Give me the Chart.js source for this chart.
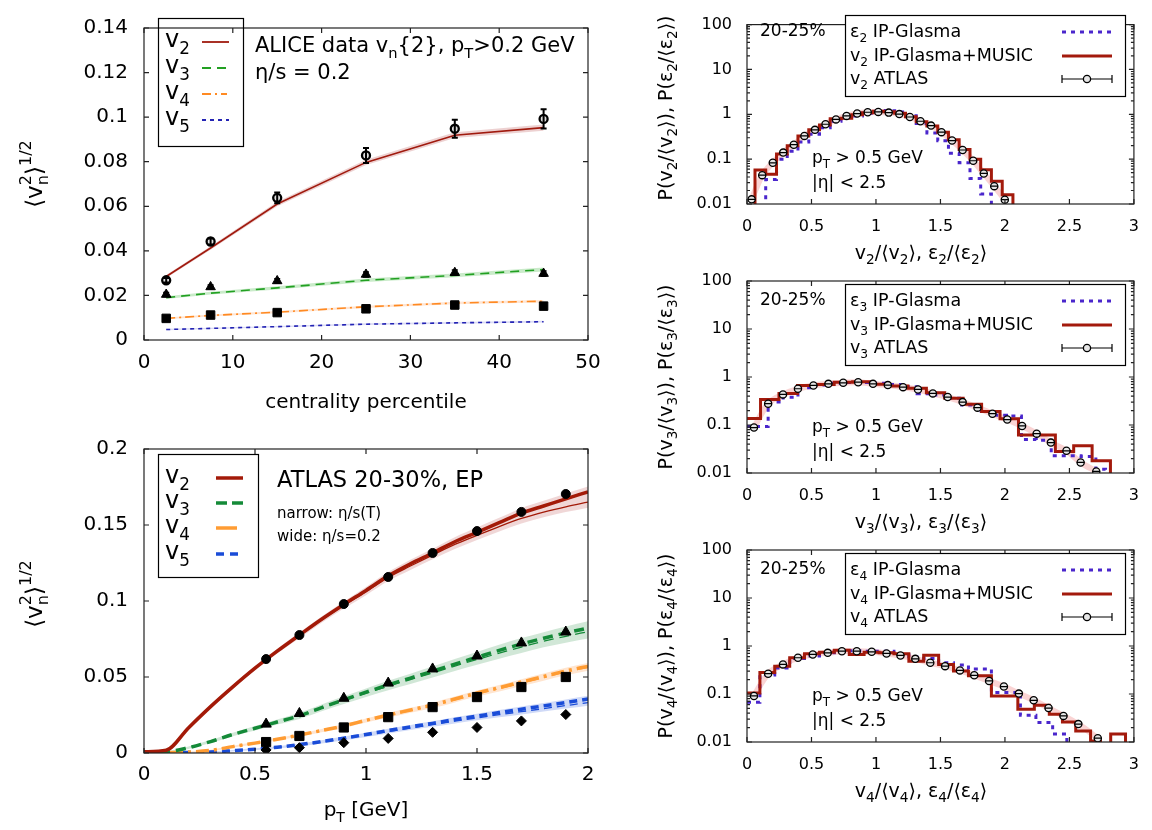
<!DOCTYPE html>
<html><head><meta charset="utf-8">
<script src="https://cdn.jsdelivr.net/npm/chart.js@4"></script>
<style>body{margin:0;background:#fff;width:1152px;height:830px;overflow:hidden}canvas.p{position:absolute;left:0;top:0}</style>
</head><body>
<canvas id="c1" class="p" width="1152" height="830"></canvas>
<canvas id="c2" class="p" width="1152" height="830"></canvas>
<canvas id="c3" class="p" width="1152" height="830"></canvas>
<canvas id="c4" class="p" width="1152" height="830"></canvas>
<canvas id="c5" class="p" width="1152" height="830"></canvas>
<script>
// ---------- Panel 1: centrality dependence ----------
const centrality = [2.5, 7.5, 15, 25, 35, 45];
const aliceV2 = [0.0268, 0.0442, 0.0638, 0.0828, 0.0948, 0.0992];
const aliceV2Err = [0.001, 0.0014, 0.0024, 0.0034, 0.0040, 0.0043];
const aliceV3 = [0.0204, 0.0238, 0.0265, 0.0294, 0.0302, 0.0298];
const aliceV3Err = [0.0009, 0.0009, 0.0010, 0.0011, 0.0012, 0.0012];
const aliceV4 = [0.0097, 0.0112, 0.0123, 0.0140, 0.0157, 0.0152];
const aliceV4Err = [0.0007, 0.0007, 0.0007, 0.0008, 0.0008, 0.0009];
const hydroCentV2 = [0.0285, 0.0413, 0.0610, 0.0797, 0.0919, 0.0953];
const hydroCentV3 = [0.0190, 0.0210, 0.0234, 0.0268, 0.0290, 0.0316];
const hydroCentV4 = [0.0097, 0.0110, 0.0125, 0.0149, 0.0166, 0.0174];
const hydroCentV5 = [0.0047, 0.0052, 0.0060, 0.0071, 0.0077, 0.0082];
const bandCentV2 = [0.0007, 0.0008, 0.0010, 0.0012, 0.0013, 0.0014];
const bandCentV3 = [0.0006, 0.0006, 0.0007, 0.0008, 0.0008, 0.0009];
const bandCentV4 = [0.0004, 0.0004, 0.0005, 0.0005, 0.0006, 0.0006];
const bandCentV5 = [0.0003, 0.0003, 0.0003, 0.0004, 0.0004, 0.0004];
const centTicks = [0, 10, 20, 30, 40, 50];
const centYTicks = [0, 0.02, 0.04, 0.06, 0.08, 0.1, 0.12, 0.14];

// ---------- Panel 2: pT dependence ----------
const ptData = [0.55, 0.7, 0.9, 1.1, 1.3, 1.5, 1.7, 1.9];
const atlasPtV2 = [0.0618, 0.0776, 0.0980, 0.1158, 0.1316, 0.1460, 0.1586, 0.1704];
const atlasPtV3 = [0.0190, 0.0260, 0.0360, 0.0460, 0.0553, 0.0638, 0.0724, 0.0796];
const atlasPtV4 = [0.0072, 0.0112, 0.0168, 0.0236, 0.0302, 0.0368, 0.0434, 0.0500];
const atlasPtV5 = [0.0020, 0.0035, 0.0068, 0.0096, 0.0136, 0.0168, 0.0211, 0.0253];
const ptGrid = [0, 0.1, 0.2, 0.3, 0.4, 0.5, 0.6, 0.7, 0.8, 0.9, 1.0, 1.1, 1.2, 1.3, 1.4, 1.5, 1.6, 1.7, 1.8, 1.9, 2.0];
const v2Thick = [0.0008, 0.0018, 0.0165, 0.0305, 0.0435, 0.0558, 0.0670, 0.0776, 0.0880, 0.0977, 0.1070, 0.1166, 0.1245, 0.1316, 0.1390, 0.1452, 0.1515, 0.1578, 0.1625, 0.1672, 0.1718];
const v2Thin  = [0.0008, 0.0018, 0.0165, 0.0305, 0.0435, 0.0558, 0.0670, 0.0772, 0.0875, 0.0970, 0.1060, 0.1155, 0.1230, 0.1302, 0.1372, 0.1432, 0.1490, 0.1543, 0.1585, 0.1620, 0.1650];
const v2Band  = [0.0005, 0.0008, 0.0010, 0.0012, 0.0014, 0.0015, 0.0016, 0.0017, 0.0018, 0.0020, 0.0022, 0.0024, 0.0026, 0.0028, 0.0030, 0.0031, 0.0032, 0.0033, 0.0034, 0.0035, 0.0036];
const v3Thick = [0.0005, 0.0008, 0.0035, 0.0075, 0.0122, 0.0163, 0.0204, 0.0245, 0.0298, 0.0350, 0.0400, 0.0448, 0.0493, 0.0538, 0.0585, 0.0630, 0.0675, 0.0717, 0.0755, 0.0790, 0.0822];
const v3Thin  = [0.0005, 0.0008, 0.0035, 0.0075, 0.0122, 0.0163, 0.0204, 0.0243, 0.0295, 0.0345, 0.0393, 0.0440, 0.0483, 0.0527, 0.0572, 0.0615, 0.0657, 0.0697, 0.0735, 0.0768, 0.0798];
const v3Band  = [0.0003, 0.0004, 0.0008, 0.0010, 0.0012, 0.0015, 0.0017, 0.0019, 0.0021, 0.0023, 0.0025, 0.0027, 0.0029, 0.0031, 0.0033, 0.0035, 0.0037, 0.0039, 0.0040, 0.0042, 0.0044];
const v4Thick = [0.0002, 0.0003, 0.0006, 0.0017, 0.0042, 0.0065, 0.0090, 0.0118, 0.0148, 0.0178, 0.0215, 0.0250, 0.0283, 0.0316, 0.0355, 0.0395, 0.0430, 0.0467, 0.0503, 0.0540, 0.0570];
const v4Thin  = [0.0002, 0.0003, 0.0006, 0.0017, 0.0042, 0.0065, 0.0090, 0.0117, 0.0146, 0.0176, 0.0212, 0.0246, 0.0279, 0.0311, 0.0349, 0.0388, 0.0423, 0.0460, 0.0496, 0.0532, 0.0563];
const v4Band  = [0.0002, 0.0003, 0.0004, 0.0005, 0.0006, 0.0007, 0.0008, 0.0009, 0.0010, 0.0011, 0.0012, 0.0013, 0.0014, 0.0015, 0.0016, 0.0017, 0.0018, 0.0019, 0.0020, 0.0021, 0.0022];
const v5Thick = [0.0001, 0.0002, 0.0003, 0.0006, 0.0015, 0.0025, 0.0038, 0.0055, 0.0075, 0.0098, 0.0122, 0.0148, 0.0172, 0.0195, 0.0220, 0.0243, 0.0266, 0.0288, 0.0310, 0.0332, 0.0355];
const v5Thin  = [0.0001, 0.0002, 0.0003, 0.0006, 0.0015, 0.0025, 0.0037, 0.0053, 0.0072, 0.0094, 0.0117, 0.0141, 0.0164, 0.0186, 0.0209, 0.0231, 0.0252, 0.0272, 0.0292, 0.0312, 0.0332];
const v5Band  = [0.0002, 0.0002, 0.0003, 0.0004, 0.0005, 0.0006, 0.0007, 0.0008, 0.0009, 0.0010, 0.0011, 0.0012, 0.0013, 0.0014, 0.0015, 0.0016, 0.0017, 0.0018, 0.0019, 0.0020, 0.0021];
const ptTicks = [0, 0.5, 1, 1.5, 2];
const ptYTicks = [0, 0.05, 0.1, 0.15, 0.2];

// ---------- Panels 3-5: event-by-event distributions ----------
const logTicks = [0.01, 0.1, 1, 10, 100];
const ratioTicks = [0, 0.5, 1, 1.5, 2, 2.5, 3];
// n = 2
const atlasX2 = [0.036, 0.118, 0.200, 0.281, 0.363, 0.445, 0.527, 0.609, 0.690, 0.772, 0.854, 0.936, 1.018, 1.099, 1.181, 1.263, 1.345, 1.427, 1.508, 1.590, 1.672, 1.754, 1.836, 1.917, 1.999];
const atlasP2 = [0.0127, 0.044, 0.083, 0.14, 0.21, 0.33, 0.45, 0.60, 0.77, 0.92, 1.04, 1.11, 1.13, 1.09, 1.01, 0.87, 0.70, 0.56, 0.40, 0.26, 0.16, 0.092, 0.048, 0.025, 0.0125];
const musicEdges2 = [0.062, 0.145, 0.229, 0.312, 0.395, 0.479, 0.562, 0.645, 0.729, 0.812, 0.895, 0.979, 1.062, 1.145, 1.229, 1.312, 1.395, 1.479, 1.562, 1.645, 1.729, 1.812, 1.895, 1.979, 2.062];
const musicP2 = [0.057, 0.046, 0.13, 0.20, 0.33, 0.45, 0.58, 0.80, 0.82, 0.98, 1.08, 1.17, 1.14, 1.05, 0.88, 0.68, 0.55, 0.40, 0.27, 0.165, 0.10, 0.058, 0.032, 0.016];
const epsEdges2 = [0.145, 0.229, 0.312, 0.395, 0.479, 0.562, 0.645, 0.729, 0.812, 0.895, 0.979, 1.062, 1.145, 1.229, 1.312, 1.395, 1.479, 1.562, 1.645, 1.729, 1.812, 1.895];
const epsP2 = [0.035, 0.10, 0.15, 0.24, 0.36, 0.50, 0.70, 0.85, 0.92, 1.05, 1.22, 1.20, 1.12, 0.93, 0.62, 0.385, 0.257, 0.135, 0.083, 0.037, 0.0167];
// n = 3
const atlasX3 = [0.054, 0.164, 0.279, 0.395, 0.515, 0.631, 0.746, 0.862, 0.977, 1.092, 1.210, 1.326, 1.441, 1.556, 1.672, 1.787, 1.903, 2.018, 2.133, 2.246, 2.356, 2.477, 2.587, 2.708];
const atlasP3 = [0.0885, 0.278, 0.434, 0.569, 0.667, 0.72, 0.757, 0.78, 0.72, 0.678, 0.615, 0.55, 0.455, 0.382, 0.30, 0.23, 0.172, 0.13, 0.0955, 0.066, 0.043, 0.029, 0.0166, 0.0108];
const musicEdges3 = [0, 0.105, 0.248, 0.391, 0.533, 0.676, 0.819, 0.962, 1.105, 1.248, 1.391, 1.533, 1.676, 1.819, 1.962, 2.105, 2.248, 2.391, 2.533, 2.676, 2.818];
const musicP3 = [0.136, 0.34, 0.455, 0.667, 0.70, 0.78, 0.80, 0.71, 0.65, 0.58, 0.47, 0.36, 0.27, 0.19, 0.135, 0.062, 0.062, 0.028, 0.037, 0.018];
const epsEdges3 = [0, 0.164, 0.280, 0.395, 0.510, 0.626, 0.741, 0.857, 0.972, 1.088, 1.203, 1.319, 1.434, 1.550, 1.665, 1.781, 1.896, 2.012, 2.128, 2.243, 2.359, 2.474, 2.590, 2.705, 2.780];
const epsP3 = [0.093, 0.30, 0.38, 0.60, 0.68, 0.74, 0.77, 0.77, 0.74, 0.70, 0.63, 0.45, 0.42, 0.36, 0.26, 0.19, 0.16, 0.154, 0.05, 0.048, 0.023, 0.023, 0.022, 0.012];
// n = 4
const atlasX4 = [0.054, 0.164, 0.279, 0.395, 0.510, 0.626, 0.736, 0.851, 0.967, 1.082, 1.190, 1.305, 1.421, 1.536, 1.651, 1.762, 1.877, 1.992, 2.108, 2.223, 2.338, 2.454, 2.569, 2.720];
const atlasP4 = [0.091, 0.265, 0.414, 0.569, 0.667, 0.72, 0.78, 0.78, 0.757, 0.70, 0.636, 0.54, 0.448, 0.38, 0.31, 0.245, 0.187, 0.143, 0.102, 0.074, 0.051, 0.035, 0.0236, 0.012];
const musicEdges4 = [0, 0.1, 0.215, 0.331, 0.446, 0.562, 0.677, 0.793, 0.908, 1.024, 1.139, 1.255, 1.370, 1.486, 1.601, 1.717, 1.895, 2.100, 2.228, 2.344, 2.446, 2.549, 2.664, 2.741];
const musicP4 = [0.105, 0.28, 0.38, 0.57, 0.69, 0.74, 0.82, 0.667, 0.74, 0.72, 0.69, 0.48, 0.645, 0.41, 0.30, 0.24, 0.091, 0.048, 0.058, 0.038, 0.026, 0.017, 0.0105];
const musicTailEdges4 = [2.82, 2.935];
const musicTailP4 = [0.0147];
const epsEdges4 = [0, 0.1, 0.215, 0.331, 0.446, 0.562, 0.677, 0.793, 0.908, 1.024, 1.139, 1.255, 1.370, 1.486, 1.601, 1.717, 1.895, 2.120, 2.240, 2.370, 2.480];
const epsP4 = [0.067, 0.25, 0.35, 0.55, 0.62, 0.72, 0.78, 0.80, 0.78, 0.78, 0.66, 0.60, 0.55, 0.45, 0.40, 0.33, 0.107, 0.036, 0.0255, 0.0147];

// ---------- helpers ----------
const W = 1152, H = 830, FAM = "'DejaVu Sans', 'Liberation Sans', sans-serif";
const FLOOR = 0.0005;
const fmt = v => String(Number(Number(v).toPrecision(6)));
const extraDraw = {};

function rich(ctx, x, y, parts, size, align, subScale) {
  const segs = parts.map(p => typeof p === 'string' ? [p, 'n'] : p);
  const small = size * (subScale || 0.7);
  const widthOf = s => {
    if (s[1] === 'n') { ctx.font = size + 'px ' + FAM; return ctx.measureText(s[0]).width; }
    ctx.font = small + 'px ' + FAM;
    let w = ctx.measureText(s[0]).width;
    if (s[1] === 'subsup') w = Math.max(w, ctx.measureText(s[2]).width);
    return w;
  };
  let total = 0; segs.forEach(s => total += widthOf(s));
  let cx = align === 'center' ? x - total / 2 : (align === 'right' ? x - total : x);
  ctx.textAlign = 'left'; ctx.textBaseline = 'alphabetic'; ctx.fillStyle = '#000';
  for (const s of segs) {
    const w = widthOf(s);
    if (s[1] === 'n') { ctx.font = size + 'px ' + FAM; ctx.fillText(s[0], cx, y); }
    else {
      ctx.font = small + 'px ' + FAM;
      if (s[1] === 'sub') ctx.fillText(s[0], cx, y + size * 0.28);
      else if (s[1] === 'sup') ctx.fillText(s[0], cx, y - size * 0.48);
      else { ctx.fillText(s[0], cx, y + size * 0.28); ctx.fillText(s[2], cx, y - size * 0.48); }
    }
    cx += w;
  }
}
function vrich(ctx, x, y, parts, size, subScale) {
  ctx.save(); ctx.translate(x, y); ctx.rotate(-Math.PI / 2); rich(ctx, 0, 0, parts, size, 'center', subScale); ctx.restore();
}
function seg(ctx, x1, y1, x2, y2, color, width, dash) {
  ctx.save(); ctx.strokeStyle = color; ctx.lineWidth = width; ctx.setLineDash(dash || []);
  ctx.beginPath(); ctx.moveTo(x1, y1); ctx.lineTo(x2, y2); ctx.stroke(); ctx.restore();
}
function box(ctx, l, t, r, b) {
  ctx.save(); ctx.strokeStyle = '#000'; ctx.lineWidth = 1.2; ctx.strokeRect(l + 0.5, t + 0.5, r - l, b - t); ctx.restore();
}
const xy = (xs, ys) => xs.map((x, i) => ({x: x, y: ys[i]}));
function lineDs(xs, ys, color, width, dash, order, extra) {
  return Object.assign({data: xy(xs, ys), showLine: true, borderColor: color, borderWidth: width, borderDash: dash || [],
    pointRadius: 0, fill: false, tension: 0, order: order}, extra || {});
}
function bandDs(xs, lo, hi, color, extra) {
  return [
    Object.assign({data: xy(xs, hi), showLine: true, borderWidth: 0, borderColor: 'rgba(0,0,0,0)', pointRadius: 0, fill: '+1', backgroundColor: color, order: 9}, extra || {}),
    Object.assign({data: xy(xs, lo), showLine: true, borderWidth: 0, borderColor: 'rgba(0,0,0,0)', pointRadius: 0, fill: false, order: 9}, extra || {})
  ];
}
function pointDs(xs, ys, style, r, extra) {
  return Object.assign({data: xy(xs, ys), showLine: false, pointStyle: style, pointRadius: r, pointHoverRadius: r,
    pointBackgroundColor: '#000', pointBorderColor: '#000', pointBorderWidth: 1, order: 0}, extra || {});
}
function histPts(edges, vals, floorStart, floorEnd) {
  const p = [];
  if (floorStart) p.push({x: edges[0], y: FLOOR});
  vals.forEach((v, i) => p.push({x: edges[i], y: v}));
  p.push({x: edges[edges.length - 1], y: vals[vals.length - 1]});
  if (floorEnd) p.push({x: edges[edges.length - 1], y: FLOOR});
  return p;
}
function histDs(edges, vals, fs, fe, color, width, dash, order) {
  return {data: histPts(edges, vals, fs, fe), showLine: true, stepped: 'before', borderColor: color, borderWidth: width,
    borderDash: dash || [], pointRadius: 0, fill: false, order: order};
}

const framePlugin = {
  id: 'frame',
  afterDraw(chart) {
    const ctx = chart.ctx, a = chart.chartArea, xs = chart.scales.x, ys = chart.scales.y;
    ctx.save(); ctx.strokeStyle = '#222'; ctx.lineWidth = 1.2; ctx.setLineDash([]);
    ctx.strokeRect(a.left, a.top, a.right - a.left, a.bottom - a.top);
    ctx.beginPath();
    xs.ticks.forEach(t => { const px = xs.getPixelForValue(t.value);
      ctx.moveTo(px, a.bottom); ctx.lineTo(px, a.bottom - 5); ctx.moveTo(px, a.top); ctx.lineTo(px, a.top + 5); });
    ys.ticks.forEach(t => { const py = ys.getPixelForValue(t.value);
      ctx.moveTo(a.left, py); ctx.lineTo(a.left + 5, py); ctx.moveTo(a.right, py); ctx.lineTo(a.right - 5, py); });
    if (ys.type === 'logarithmic') {
      for (let d = 0.01; d < 100; d *= 10) for (let m = 2; m <= 9; m++) {
        const py = ys.getPixelForValue(d * m);
        ctx.moveTo(a.left, py); ctx.lineTo(a.left + 3, py); ctx.moveTo(a.right, py); ctx.lineTo(a.right - 3, py);
      }
    }
    ctx.stroke(); ctx.restore();
    const fn = extraDraw[chart.canvas.id];
    if (fn) { ctx.save(); fn(ctx, chart); ctx.restore(); }
  }
};
const errPlugin = {
  id: 'errbars',
  afterDatasetsDraw(chart) {
    const ctx = chart.ctx, xs = chart.scales.x, ys = chart.scales.y;
    chart.data.datasets.forEach(ds => {
      if (!ds.errY && !ds.errX) return;
      ctx.save(); ctx.strokeStyle = '#000'; ctx.lineWidth = ds.errWidth || 1.5; ctx.beginPath();
      ds.data.forEach((p, i) => {
        const px = xs.getPixelForValue(p.x), py = ys.getPixelForValue(p.y), c = ds.errCap || 3;
        if (ds.errY) { const e = ds.errY[i]; const y1 = ys.getPixelForValue(p.y - e), y2 = ys.getPixelForValue(p.y + e);
          ctx.moveTo(px, y1); ctx.lineTo(px, y2); ctx.moveTo(px - c, y1); ctx.lineTo(px + c, y1); ctx.moveTo(px - c, y2); ctx.lineTo(px + c, y2); }
        if (ds.errX) { const x1 = xs.getPixelForValue(p.x - ds.errX), x2 = xs.getPixelForValue(p.x + ds.errX);
          ctx.moveTo(x1, py); ctx.lineTo(x2, py); }
      });
      ctx.stroke(); ctx.restore();
    });
  }
};

function axis(ticksArr, min, max, type, size, pad) {
  return {type: type, min: min, max: max,
    afterBuildTicks: s => { s.ticks = ticksArr.map(v => ({value: v})); },
    grid: {display: false, drawTicks: false}, border: {display: false},
    ticks: {autoSkip: false, maxRotation: 0, minRotation: 0, padding: pad, color: '#000',
      font: {family: FAM, size: size}, callback: v => fmt(v)}};
}
function makeChart(id, area, xa, ya, datasets, draw) {
  const xAxisH = 40;
  xa.afterFit = s => { s.height = xAxisH; };
  ya.afterFit = s => { s.width = area.l; };
  extraDraw[id] = draw;
  return new Chart(document.getElementById(id), {
    type: 'scatter',
    data: {datasets: datasets},
    options: {responsive: false, animation: false, devicePixelRatio: 1, events: [],
      layout: {padding: {left: 0, top: area.t, right: W - area.r, bottom: H - area.b - xAxisH}},
      plugins: {legend: {display: false}, tooltip: {enabled: false}},
      scales: {x: xa, y: ya}},
    plugins: [framePlugin, errPlugin]
  });
}

// ---------- Panel 1 ----------
(function () {
  const cV2 = '#a01a0e', cV3 = '#22a022', cV4 = '#ff8a22', cV5 = '#2424b4';
  const dV3 = [9, 6], dV4 = [9, 4, 2, 4], dV5 = [4, 4];
  const add = (ys, w) => ys.map((v, i) => v + w[i]);
  const sub = (ys, w) => ys.map((v, i) => v - w[i]);
  const ds = [
    pointDs(centrality, aliceV2, 'circle', 4, {pointBackgroundColor: 'rgba(200,200,200,0.6)', pointBorderWidth: 2.3, errY: aliceV2Err, errCap: 3, errWidth: 2}),
    pointDs(centrality, aliceV3, 'triangle', 5.5, {errY: aliceV3Err, errCap: 3}),
    pointDs(centrality, aliceV4, 'rect', 6, {errY: aliceV4Err, errCap: 3}),
    lineDs(centrality, hydroCentV2, cV2, 1.6, [], 1),
    lineDs(centrality, hydroCentV3, cV3, 1.6, dV3, 1),
    lineDs(centrality, hydroCentV4, cV4, 1.6, dV4, 1),
    lineDs(centrality, hydroCentV5, cV5, 1.6, dV5, 1),
    ...bandDs(centrality, sub(hydroCentV2, bandCentV2), add(hydroCentV2, bandCentV2), 'rgba(190,90,90,0.28)'),
    ...bandDs(centrality, sub(hydroCentV3, bandCentV3), add(hydroCentV3, bandCentV3), 'rgba(80,190,80,0.3)'),
    ...bandDs(centrality, sub(hydroCentV4, bandCentV4), add(hydroCentV4, bandCentV4), 'rgba(255,170,110,0.3)'),
    ...bandDs(centrality, sub(hydroCentV5, bandCentV5), add(hydroCentV5, bandCentV5), 'rgba(110,110,220,0.25)')
  ];
  makeChart('c1', {l: 144, t: 13, r: 588, b: 340},
    axis(centTicks, 0, 50, 'linear', 20, 11), axis(centYTicks, 0, 0.14, 'linear', 20, 16), ds,
    (ctx) => {
      box(ctx, 158, 18, 243, 146);
      const labs = ['2', '3', '4', '5'], ys = [47, 73, 99, 125];
      labs.forEach((n, i) => rich(ctx, 165, ys[i], ['v', [n, 'sub']], 24));
      seg(ctx, 202, 42, 229, 42, cV2, 1.8);
      seg(ctx, 202, 68, 229, 68, cV3, 1.8, dV3);
      seg(ctx, 202, 94, 227, 94, cV4, 1.8, dV4);
      seg(ctx, 202, 120, 229, 120, cV5, 1.8, dV5);
      rich(ctx, 255, 52, ['ALICE data v', ['n', 'sub'], '{2}, p', ['T', 'sub'], '>0.2 GeV'], 21);
      rich(ctx, 255, 79, ['η/s = 0.2'], 21);
      rich(ctx, 366, 408, ['centrality percentile'], 20, 'center');
      vrich(ctx, 42, 174, ['⟨v', ['n', 'subsup', '2'], '⟩', ['1/2', 'sup']], 23);
    });
})();

// ---------- Panel 2 ----------
(function () {
  const cV2 = '#a31a08', cV3 = '#148a38', cV4 = '#ff9c33', cV5 = '#1a4cd8';
  const dV3 = [10, 6], dV4 = [13, 5, 3, 5], dV5 = [8, 5];
  const smooth = {cubicInterpolationMode: 'monotone'};
  const lo = (a, b, w) => a.map((v, i) => Math.min(v, b[i]) - w[i]);
  const hi = (a, b, w) => a.map((v, i) => Math.max(v, b[i]) + w[i]);
  const ds = [
    pointDs(ptData, atlasPtV2, 'circle', 4.5),
    pointDs(ptData, atlasPtV3, 'triangle', 6),
    pointDs(ptData, atlasPtV4, 'rect', 6.5),
    pointDs(ptData, atlasPtV5, 'rectRot', 5),
    lineDs(ptGrid, v2Thick, cV2, 3.5, [], 1, smooth),
    lineDs(ptGrid, v2Thin, cV2, 1.3, [], 1, smooth),
    lineDs(ptGrid, v3Thick, cV3, 3.5, dV3, 1, smooth),
    lineDs(ptGrid, v3Thin, cV3, 1.3, dV3, 1, smooth),
    lineDs(ptGrid, v4Thick, cV4, 3.5, dV4, 1, smooth),
    lineDs(ptGrid, v4Thin, cV4, 1.3, dV4, 1, smooth),
    lineDs(ptGrid, v5Thick, cV5, 3.5, dV5, 1, smooth),
    lineDs(ptGrid, v5Thin, cV5, 1.3, dV5, 1, smooth),
    ...bandDs(ptGrid, lo(v2Thick, v2Thin, v2Band), hi(v2Thick, v2Thin, v2Band), 'rgba(200,110,110,0.28)', smooth),
    ...bandDs(ptGrid, lo(v3Thick, v3Thin, v3Band), hi(v3Thick, v3Thin, v3Band), 'rgba(90,170,110,0.28)', smooth),
    ...bandDs(ptGrid, lo(v4Thick, v4Thin, v4Band), hi(v4Thick, v4Thin, v4Band), 'rgba(255,180,120,0.35)', smooth),
    ...bandDs(ptGrid, lo(v5Thick, v5Thin, v5Band), hi(v5Thick, v5Thin, v5Band), 'rgba(110,140,230,0.32)', smooth)
  ];
  makeChart('c2', {l: 144, t: 449, r: 588, b: 753},
    axis(ptTicks, 0, 2, 'linear', 20, 10), axis(ptYTicks, 0, 0.2, 'linear', 20, 16), ds,
    (ctx) => {
      box(ctx, 158, 454, 258, 577);
      const labs = ['2', '3', '4', '5'], ys = [483, 508, 533, 559];
      labs.forEach((n, i) => rich(ctx, 165, ys[i], ['v', [n, 'sub']], 24));
      seg(ctx, 216, 478, 243, 478, cV2, 3.5);
      seg(ctx, 216, 503, 243, 503, cV3, 3.5, [11, 5]);
      seg(ctx, 216, 528, 237, 528, cV4, 3.5);
      seg(ctx, 216, 554, 243, 554, cV5, 3.5, [8, 6]);
      rich(ctx, 277, 487, ['ATLAS 20-30%, EP'], 22.5);
      rich(ctx, 277, 518, ['narrow: η/s(T)'], 15);
      rich(ctx, 277, 541, ['wide: η/s=0.2'], 15);
      rich(ctx, 366, 816, ['p', ['T', 'sub'], ' [GeV]'], 20, 'center');
      vrich(ctx, 42, 594, ['⟨v', ['n', 'subsup', '2'], '⟩', ['1/2', 'sup']], 23);
    });
})();

// ---------- Panels 3-5 ----------
function distPanel(id, top, n, atlasX, atlasP, mEdges, mP, mFloorStart, eEdges, eP, eFloorStart, extraDs) {
  const area = {l: 747, t: top, r: 1136, b: top + 192};
  const cM = '#a31a0c', cE = '#4a26cc', pink = 'rgba(245,160,160,0.45)';
  const ds = [
    pointDs(atlasX, atlasP, 'circle', 3.6, {pointBackgroundColor: '#e6e6e6', pointBorderWidth: 1.3, errX: 0.03, errWidth: 1.2}),
    histDs(mEdges, mP, mFloorStart, true, cM, 3, [], 1),
    histDs(eEdges, eP, eFloorStart, true, cE, 3, [4, 5], 2),
    lineDs(atlasX, atlasP, pink, 6, [], 8, {tension: 0.35})
  ].concat(extraDs || []);
  makeChart(id, area, axis(ratioTicks, 0, 3, 'linear', 16, 13), axis(logTicks, 0.01, 100, 'logarithmic', 16, 15), ds,
    (ctx) => {
      const bt = top + 3;
      ctx.fillStyle = '#fff'; ctx.fillRect(846, bt + 1, 279, 80);
      box(ctx, 845, bt, 1125, bt + 81);
      rich(ctx, 850, bt + 22, ['ε', [n, 'sub'], ' IP-Glasma'], 17.5);
      rich(ctx, 850, bt + 46, ['v', [n, 'sub'], ' IP-Glasma+MUSIC'], 17.5);
      rich(ctx, 850, bt + 69, ['v', [n, 'sub'], ' ATLAS'], 17.5);
      seg(ctx, 1062, bt + 17, 1112, bt + 17, cE, 3, [4, 5]);
      seg(ctx, 1062, bt + 41, 1112, bt + 41, cM, 3);
      const ly = bt + 64;
      seg(ctx, 1062, ly, 1112, ly, '#000', 1.2);
      seg(ctx, 1062, ly - 4, 1062, ly + 4, '#000', 1.2);
      seg(ctx, 1112, ly - 4, 1112, ly + 4, '#000', 1.2);
      ctx.save(); ctx.beginPath(); ctx.arc(1087, ly, 3.6, 0, 2 * Math.PI); ctx.fillStyle = '#e6e6e6'; ctx.fill();
      ctx.lineWidth = 1.3; ctx.strokeStyle = '#000'; ctx.stroke(); ctx.restore();
      rich(ctx, 760, top + 24, ['20-25%'], 17);
      rich(ctx, 812, top + 151, ['p', ['T', 'sub'], ' > 0.5 GeV'], 17);
      rich(ctx, 812, top + 176, ['|η| < 2.5'], 17);
      rich(ctx, 921, top + 247, ['v', [n, 'sub'], '/⟨v', [n, 'sub'], '⟩, ε', [n, 'sub'], '/⟨ε', [n, 'sub'], '⟩'], 19, 'center', 0.72);
      vrich(ctx, 672, top + 96, ['P(v', [n, 'sub'], '/⟨v', [n, 'sub'], '⟩), P(ε', [n, 'sub'], '/⟨ε', [n, 'sub'], '⟩)'], 19, 0.72);
    });
}
distPanel('c3', 12, '2', atlasX2, atlasP2, musicEdges2, musicP2, true, epsEdges2, epsP2, true);
distPanel('c4', 281, '3', atlasX3, atlasP3, musicEdges3, musicP3, false, epsEdges3, epsP3, false);
distPanel('c5', 550, '4', atlasX4, atlasP4, musicEdges4, musicP4, false, epsEdges4, epsP4, false,
  [histDs(musicTailEdges4, musicTailP4, true, true, '#a31a0c', 3, [], 1)]);
</script>
</body></html>
